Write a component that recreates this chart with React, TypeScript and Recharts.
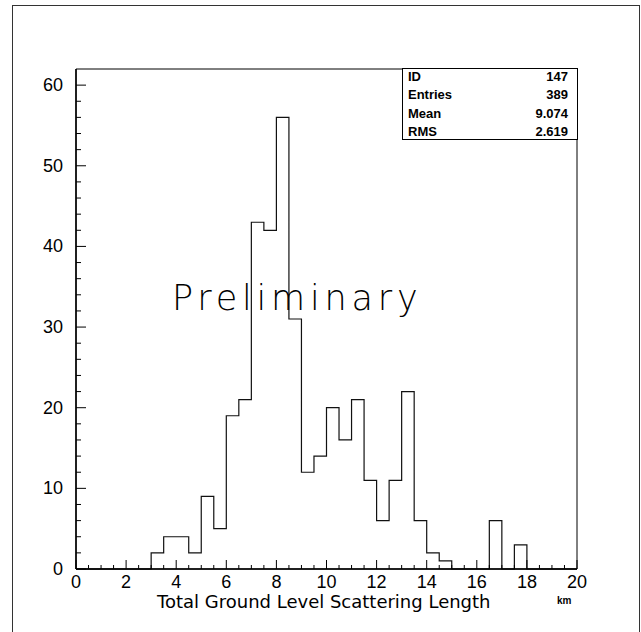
import React from 'react';
import { LineChart, Line, XAxis, YAxis, ReferenceArea } from 'recharts';

// histogram bins, 0.5 km wide
const binStarts = [
  0, 0.5, 1, 1.5, 2, 2.5, 3, 3.5, 4, 4.5, 5, 5.5, 6, 6.5, 7, 7.5, 8, 8.5, 9, 9.5,
  10, 10.5, 11, 11.5, 12, 12.5, 13, 13.5, 14, 14.5, 15, 15.5, 16, 16.5, 17, 17.5, 18, 18.5, 19, 19.5,
];
const counts = [
  0, 0, 0, 0, 0, 0, 2, 4, 4, 2, 9, 5, 19, 21, 43, 42, 56, 31, 12, 14,
  20, 16, 21, 11, 6, 11, 22, 6, 2, 1, 0, 0, 0, 6, 0, 3, 0, 0, 0, 0,
];
const xEnd = 20;

const xTicks = [
  0, 0.5, 1, 1.5, 2, 2.5, 3, 3.5, 4, 4.5, 5, 5.5, 6, 6.5, 7, 7.5, 8, 8.5, 9, 9.5, 10,
  10.5, 11, 11.5, 12, 12.5, 13, 13.5, 14, 14.5, 15, 15.5, 16, 16.5, 17, 17.5, 18, 18.5, 19, 19.5, 20,
];
const xLabels = [0, 2, 4, 6, 8, 10, 12, 14, 16, 18, 20];
const yTicks = [
  0, 2, 4, 6, 8, 10, 12, 14, 16, 18, 20, 22, 24, 26, 28, 30, 32, 34, 36, 38, 40,
  42, 44, 46, 48, 50, 52, 54, 56, 58, 60,
];
const yLabels = [0, 10, 20, 30, 40, 50, 60];

const statNames = ['ID', 'Entries', 'Mean', 'RMS'];
const statValues = ['147', '389', '9.074', '2.619'];

const data = [
  ...binStarts.map((x, i) => ({ x, n: counts[i] })),
  { x: xEnd, n: 0 },
];

const labelFont = '"Liberation Sans", Arial, sans-serif';
const wideFont = '"DejaVu Sans", sans-serif';

const XTick = ({ x, y, payload }: any) => {
  const major = xLabels.includes(payload.value);
  return (
    <g>
      <line x1={x} x2={x} y1={y} y2={y - (major ? 9 : 4)} stroke="#000" strokeWidth={1} />
      {major && (
        <text x={x} y={y + 19} textAnchor="middle" fontSize={18} fontFamily={labelFont} fill="#000">
          {payload.value}
        </text>
      )}
    </g>
  );
};

const YTick = ({ x, y, payload }: any) => {
  const major = yLabels.includes(payload.value);
  return (
    <g>
      <line x1={x} x2={x + (major ? 10 : 5)} y1={y} y2={y} stroke="#000" strokeWidth={1} />
      {major && (
        <text x={x - 13} y={y + 6} textAnchor="end" fontSize={18} fontFamily={labelFont} fill="#000">
          {payload.value}
        </text>
      )}
    </g>
  );
};

export default function App() {
  return (
    <div style={{ position: 'absolute', left: 0, top: 0, width: 641, height: 632, background: '#fff', overflow: 'hidden' }}>
      <div style={{ position: 'absolute', left: 12, top: 5, width: 626, height: 640, borderLeft: '1px solid #333', borderTop: '1px solid #333', borderRight: '1px solid #333' }} />
      <LineChart width={641} height={632} data={data} margin={{ top: 69, right: 64, bottom: 33, left: 36 }}>
        <XAxis
          dataKey="x"
          type="number"
          domain={[0, 20]}
          ticks={xTicks}
          interval={0}
          tick={<XTick />}
          tickLine={false}
          tickSize={0}
          tickMargin={0}
          height={30}
          axisLine={{ stroke: '#000', strokeWidth: 1.5 }}
        />
        <YAxis
          type="number"
          domain={[0, 62]}
          ticks={yTicks}
          interval={0}
          tick={<YTick />}
          tickLine={false}
          tickSize={0}
          tickMargin={0}
          width={40}
          axisLine={{ stroke: '#000', strokeWidth: 1.5 }}
        />
        <ReferenceArea x1={0} x2={20} y1={0} y2={62} fill="none" stroke="#000" strokeWidth={1} />
        <Line dataKey="n" type="stepAfter" stroke="#111" strokeWidth={1.2} dot={false} isAnimationActive={false} />
      </LineChart>
      <div style={{ position: 'absolute', left: 402, top: 68, width: 174, height: 70, border: '1px solid #000', background: '#fff', fontFamily: labelFont, fontWeight: 'bold', fontSize: 13 }}>
        {statNames.map((name, i) => (
          <div key={name} style={{ position: 'absolute', left: 5, right: 9, top: -1 + i * 18.4, height: 18.4, lineHeight: '18.4px', display: 'flex', justifyContent: 'space-between' }}>
            <span>{name}</span>
            <span>{statValues[i]}</span>
          </div>
        ))}
      </div>
      <div style={{ position: 'absolute', left: 172, top: 276, fontFamily: wideFont, fontWeight: 300, fontSize: 35, letterSpacing: 4.8, lineHeight: '44px', color: '#000', whiteSpace: 'nowrap' }}>
        Preliminary
      </div>
      <div style={{ position: 'absolute', left: 157, top: 592, fontFamily: wideFont, fontSize: 18, lineHeight: '20px', whiteSpace: 'nowrap' }}>
        Total Ground Level Scattering Length
      </div>
      <div style={{ position: 'absolute', left: 557, top: 595, fontFamily: labelFont, fontWeight: 'bold', fontSize: 10, lineHeight: '12px' }}>
        km
      </div>
    </div>
  );
}
